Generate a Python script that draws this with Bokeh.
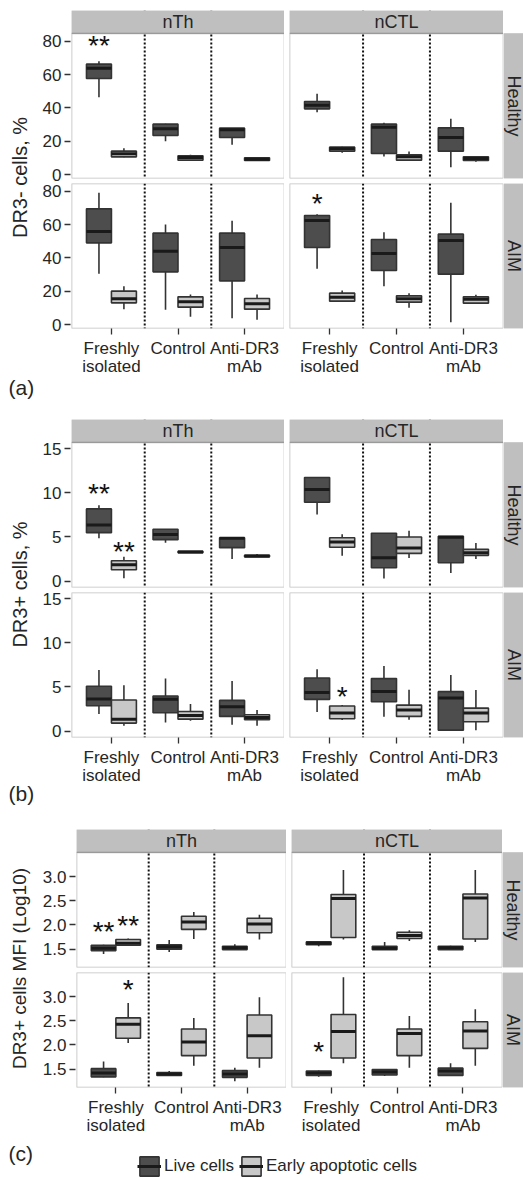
import numpy as np
from math import pi
from bokeh.plotting import figure
from bokeh.models import (ColumnDataSource, Range1d, FixedTicker, Span, Legend,
                          LegendItem, BoxAnnotation)
from bokeh.layouts import row, column
from bokeh.transform import dodge
from bokeh.core.properties import value
from bokeh.embed import file_html
from bokeh.resources import INLINE

# ---------------------------------------------------------------- data
TREATMENTS = ["Freshly isolated", "Control", "Anti-DR3 mAb"]
TICK_LABELS = ["Freshly\nisolated", "Control", "Anti-DR3\nmAb"]
SUBSETS = ["nTh", "nCTL"]
GROUPS = ["Healthy", "AIM"]
CELLS = ["Live cells", "Early apoptotic cells"]

# each box: [whisker low, Q1, median, Q3, whisker high], one per treatment
# (a) DR3- cells, %
A_HEALTHY_NTH_LIVE = [[46.4, 57.6, 63.8, 66.2, 68.0], [20.0, 23.4, 27.4, 30.2, 30.4], [17.8, 22.2, 26.8, 27.8, 27.9]]
A_HEALTHY_NTH_EARLY = [[10.4, 10.6, 12.4, 14.0, 15.8], [8.6, 8.6, 10.2, 11.2, 11.8], [8.2, 8.4, 9.2, 10.0, 10.2]]
A_HEALTHY_NCTL_LIVE = [[37.4, 39.4, 41.6, 43.8, 48.4], [10.8, 12.6, 28.4, 30.2, 31.0], [4.4, 14.0, 22.2, 28.0, 33.4]]
A_HEALTHY_NCTL_EARLY = [[13.0, 14.0, 15.4, 16.4, 16.6], [8.6, 8.6, 10.6, 11.8, 13.8], [7.6, 8.4, 9.6, 10.6, 10.8]]
A_AIM_NTH_LIVE = [[30.4, 49.0, 55.8, 69.4, 79.0], [8.8, 31.6, 44.0, 54.8, 60.0], [3.8, 26.2, 46.2, 54.8, 62.2]]
A_AIM_NTH_EARLY = [[9.2, 13.0, 15.4, 20.0, 23.0], [4.6, 10.4, 13.6, 16.6, 18.0], [2.8, 9.2, 12.4, 15.6, 18.0]]
A_AIM_NCTL_LIVE = [[33.4, 46.2, 62.4, 65.4, 66.2], [23.0, 32.4, 42.6, 51.0, 55.4], [1.4, 30.2, 50.4, 54.2, 73.0]]
A_AIM_NCTL_EARLY = [[14.0, 14.0, 16.4, 18.8, 20.4], [10.0, 13.4, 15.4, 17.2, 18.8], [12.8, 12.8, 15.2, 16.6, 17.8]]

# (b) DR3+ cells, %
B_HEALTHY_NTH_LIVE = [[4.85, 5.49, 6.36, 8.18, 8.6], [4.36, 4.7, 5.27, 5.87, 5.9], [2.5, 3.79, 4.85, 4.92, 4.95]]
B_HEALTHY_NTH_EARLY = [[0.34, 1.29, 1.86, 2.31, 2.77], [3.2, 3.22, 3.3, 3.38, 3.4], [2.73, 2.75, 2.84, 2.93, 3.07]]
B_HEALTHY_NCTL_LIVE = [[7.54, 8.94, 10.38, 11.74, 11.75], [0.3, 1.52, 2.65, 5.42, 5.43], [0.91, 2.08, 4.96, 5.08, 5.09]]
B_HEALTHY_NCTL_EARLY = [[2.88, 3.83, 4.43, 4.92, 5.3], [2.61, 3.14, 3.75, 5.0, 5.72], [2.5, 2.92, 3.22, 3.6, 4.32]]
B_AIM_NTH_LIVE = [[1.93, 2.88, 3.64, 5.08, 6.93], [0.98, 2.08, 3.6, 3.98, 5.95], [0.72, 1.67, 2.77, 3.48, 5.68]]
B_AIM_NTH_EARLY = [[0.6, 0.91, 1.36, 3.52, 5.19], [1.17, 1.36, 1.78, 2.23, 3.07], [0.6, 1.3, 1.55, 1.86, 2.39]]
B_AIM_NCTL_LIVE = [[2.16, 3.6, 4.39, 6.02, 7.0], [1.63, 3.33, 4.5, 5.95, 7.39], [0.11, 0.11, 3.75, 4.47, 6.36]]
B_AIM_NCTL_EARLY = [[1.25, 1.4, 2.05, 2.84, 2.95], [1.29, 1.67, 2.39, 2.95, 4.7], [0.11, 1.06, 2.05, 2.61, 4.66]]

# (c) DR3+ cells MFI (Log10)
C_HEALTHY_NTH_LIVE = [[1.40, 1.47, 1.52, 1.58, 1.59], [1.44, 1.50, 1.55, 1.59, 1.69], [1.49, 1.49, 1.53, 1.56, 1.60]]
C_HEALTHY_NTH_EARLY = [[1.57, 1.58, 1.62, 1.70, 1.72], [1.71, 1.91, 2.06, 2.18, 2.27], [1.70, 1.84, 2.02, 2.14, 2.21]]
C_HEALTHY_NCTL_LIVE = [[1.56, 1.59, 1.62, 1.65, 1.66], [1.49, 1.49, 1.52, 1.56, 1.65], [1.49, 1.49, 1.53, 1.56, 1.57]]
C_HEALTHY_NCTL_EARLY = [[1.70, 1.74, 2.55, 2.63, 3.14], [1.67, 1.72, 1.78, 1.85, 1.89], [1.65, 1.71, 2.56, 2.64, 3.14]]
C_AIM_NTH_LIVE = [[1.33, 1.34, 1.42, 1.51, 1.66], [1.36, 1.37, 1.40, 1.43, 1.46], [1.25, 1.33, 1.40, 1.47, 1.53]]
C_AIM_NTH_EARLY = [[2.04, 2.14, 2.43, 2.56, 2.87], [1.57, 1.78, 2.06, 2.33, 2.56], [1.53, 1.73, 2.19, 2.62, 2.99]]
C_AIM_NCTL_LIVE = [[1.34, 1.37, 1.42, 1.46, 1.47], [1.36, 1.38, 1.44, 1.49, 1.50], [1.37, 1.37, 1.46, 1.52, 1.62]]
C_AIM_NCTL_EARLY = [[1.62, 1.73, 2.28, 2.63, 3.40], [1.53, 1.78, 2.24, 2.33, 2.60], [1.57, 1.93, 2.29, 2.48, 2.74]]

# significance marks: (group, subset, treatment, cell, text, y)
A_STARS = [("Healthy", "nTh", "Freshly isolated", "Live cells", "**", 79.4),
           ("AIM", "nCTL", "Freshly isolated", "Live cells", "*", 74.4)]
B_STARS = [("Healthy", "nTh", "Freshly isolated", "Live cells", "**", 10.3),
           ("Healthy", "nTh", "Freshly isolated", "Early apoptotic cells", "**", 3.75),
           ("AIM", "nCTL", "Freshly isolated", "Early apoptotic cells", "*", 4.28)]
C_STARS = [("Healthy", "nTh", "Freshly isolated", "Live cells", "**", 1.92),
           ("Healthy", "nTh", "Freshly isolated", "Early apoptotic cells", "**", 2.05),
           ("AIM", "nTh", "Freshly isolated", "Early apoptotic cells", "*", 3.21),
           ("AIM", "nCTL", "Freshly isolated", "Live cells", "*", 1.92)]

A_YTICKS = [0, 20, 40, 60, 80]
B_YTICKS = [0, 5, 10, 15]
C_YTICKS = [1.5, 2.0, 2.5, 3.0]
Y_TITLES = ["DR3- cells, %", "DR3+ cells, %", "DR3+ cells MFI (Log10)"]
PANEL_TAGS = ["(a)", "(b)", "(c)"]


def stats_table(prefix):
    g = globals()
    out = {}
    for grp in GROUPS:
        for sub in SUBSETS:
            for cell, suffix in zip(CELLS, ["LIVE", "EARLY"]):
                out[(grp, sub, cell)] = g[f"{prefix}_{grp.upper()}_{sub.upper()}_{suffix}"]
    return out


# ---------------------------------------------------------------- style
FONT = "Liberation Sans"
DARK = "#4d4d4d"
LIGHT = "#c8c8c8"
EDGE = "#333333"
MED = "#1a1a1a"
FRAME = "#2b2b2b"
STRIP = "#bfbfbf"
STRIP_EDGE = "#a0a0a0"
TXT = "#262626"
BOX_W = 0.375
OFFSET = {CELLS[0]: -BOX_W / 2, CELLS[1]: BOX_W / 2}
FILL = {CELLS[0]: DARK, CELLS[1]: LIGHT}


def bare(width, height, xr=(0, 1), yr=(0, 1), **borders):
    b = dict(min_border_left=0, min_border_right=0, min_border_top=0, min_border_bottom=0)
    b.update(borders)
    p = figure(width=width, height=height, x_range=Range1d(*xr), y_range=Range1d(*yr),
               output_backend="svg", toolbar_location=None, **b)
    p.axis.visible = False
    p.grid.visible = False
    p.outline_line_color = None
    p.border_fill_color = "white"
    p.background_fill_color = "white"
    return p


def style_axis(ax):
    ax.axis_line_color = None
    ax.major_tick_in = 0
    ax.major_tick_out = 6
    ax.major_tick_line_color = EDGE
    ax.major_tick_line_width = 1.3
    ax.minor_tick_line_color = None
    ax.major_label_text_font = FONT
    ax.major_label_text_font_size = "17px"
    ax.major_label_text_color = TXT


def strip_text(p, x, y, label, vertical=False):
    p.text(x=[x], y=[y], text=[label], angle=(-pi / 2 if vertical else 0),
           text_font=value(FONT), text_font_size="18px", text_color=TXT,
           text_align="center", text_baseline="middle")


def right_strip(label, width, fh, top_strip, top_white, bottom):
    """Grey facet label on the right; the frame may also cover the top-strip band (left white)."""
    p = bare(width, top_strip + fh + bottom + top_white, yr=(0, fh + top_strip),
             min_border_top=top_white, min_border_bottom=bottom)
    p.add_layout(BoxAnnotation(top=fh, fill_color=STRIP, fill_alpha=1,
                               line_color=STRIP_EDGE, line_width=1, level="underlay"))
    strip_text(p, 0.5, fh / 2, label, vertical=True)
    return p


def yaxis_fig(yr, yticks, yfmt, width, fh, gap, top, bottom):
    """One shared y axis for the two stacked facet rows of a panel.

    The 1px-wide frame spans both facet rows (plus the gap between them) in
    screen units; each facet's tick values are placed by that facet's linear
    y scale so both rows' labels live on one canvas (no clipping)."""
    span = 2 * fh + gap
    p = bare(width, top + span + bottom, yr=(0, span), min_border_left=width - 1,
             min_border_top=top, min_border_bottom=bottom)
    ticks, labels = [], {}
    for base in (0, fh + gap):          # lower row (AIM), upper row (Healthy)
        for v in yticks:
            pos = round(base + (v - yr[0]) / (yr[1] - yr[0]) * fh, 4)
            ticks.append(pos)
            labels[pos] = yfmt % v
    ya = p.yaxis[0]
    ya.visible = True
    style_axis(ya)
    ya.ticker = FixedTicker(ticks=ticks)
    ya.major_label_overrides = labels
    ya.major_label_standoff = 3
    return p


def facet(stats, stars, grp, sub, yr, width, fh, left, bottom, show_x, strip_h=0, strip_top=0):
    """One facet panel. With strip_h > 0 the frame also holds the grey column strip on top."""
    y0, y1 = yr
    ytop = y1 + (y1 - y0) * strip_h / fh
    p = figure(width=width, height=strip_top + strip_h + fh + bottom,
               x_range=Range1d(0.4, 3.6), y_range=Range1d(y0, ytop),
               output_backend="svg", toolbar_location=None,
               min_border_left=left, min_border_right=0, min_border_top=strip_top,
               min_border_bottom=bottom)
    p.background_fill_color = "white"
    p.border_fill_color = "white"
    p.outline_line_color = None
    p.xgrid.visible = False
    p.ygrid.visible = False
    xs = list(range(1, len(TREATMENTS) + 1))
    for b in xs[:-1]:
        p.add_layout(Span(location=b + 0.5, dimension="height", line_color="#111111",
                          line_width=2, line_dash="2 2", level="underlay"))
    if strip_h:
        p.add_layout(BoxAnnotation(bottom=y1, fill_color=STRIP, fill_alpha=1,
                                   line_color=STRIP_EDGE, line_width=1, level="underlay"))
        strip_text(p, (0.4 + 3.6) / 2, (y1 + ytop) / 2, sub)
    for cell in CELLS:
        s = stats[(grp, sub, cell)]
        src = ColumnDataSource(dict(x=xs, lo=[v[0] for v in s], q1=[v[1] for v in s],
                                    med=[v[2] for v in s], q3=[v[3] for v in s],
                                    hi=[v[4] for v in s]))
        off = OFFSET[cell]
        p.segment(x0=dodge("x", off), x1=dodge("x", off), y0="lo", y1="hi", source=src,
                  line_color=EDGE, line_width=1.6)
        p.vbar(x=dodge("x", off), width=BOX_W, bottom="q1", top="q3", source=src,
               fill_color=FILL[cell], line_color=EDGE, line_width=1.6)
        p.segment(x0=dodge("x", off - BOX_W / 2), x1=dodge("x", off + BOX_W / 2),
                  y0="med", y1="med", source=src, line_color=MED, line_width=3)
    st = [s for s in stars if s[0] == grp and s[1] == sub]
    if st:
        ssrc = ColumnDataSource(dict(x=[TREATMENTS.index(s[2]) + 1 + OFFSET[s[3]] for s in st],
                                     y=[s[5] for s in st], t=[s[4] for s in st]))
        p.text(x="x", y="y", text="t", source=ssrc, text_font=value(FONT),
               text_font_size="28px", text_color="#111111", text_align="center",
               text_baseline="middle", y_offset=3)
    # panel border (below the strip, if any)
    p.add_layout(BoxAnnotation(top=y1, fill_alpha=0, line_color=FRAME, line_width=1.6,
                               level="overlay"))
    xa = p.xaxis[0]
    style_axis(xa)
    xa.ticker = FixedTicker(ticks=xs)
    xa.major_label_overrides = dict(zip(xs, TICK_LABELS))
    xa.major_label_standoff = 4
    xa.major_label_text_line_height = 0.95
    xa.visible = show_x
    p.yaxis[0].visible = False
    return p


def panel(prefix, stars, yr, yticks, yfmt, ytitle, ytitle_size, tag, g):
    stats = stats_table(prefix)
    head = g["strip_top"] + g["strip_h"]
    extra_h = g.get("legend_h", 0)
    fh, gap = g["fh"], g["gap"]
    # upper row (Healthy) carries the column strips inside its frames
    upper = row(
        facet(stats, stars, GROUPS[0], SUBSETS[0], yr, g["w1"], fh, 0, gap, False,
              g["strip_h"], g["strip_top"]),
        facet(stats, stars, GROUPS[0], SUBSETS[1], yr, gap + g["w2"], fh, gap, gap, False,
              g["strip_h"], g["strip_top"]),
        right_strip(GROUPS[0], g["rs_w"], fh, g["strip_h"], g["strip_top"], gap))
    lower = row(
        facet(stats, stars, GROUPS[1], SUBSETS[0], yr, g["w1"], fh, 0, g["bottom"], True),
        facet(stats, stars, GROUPS[1], SUBSETS[1], yr, gap + g["w2"], fh, gap, g["bottom"], True),
        right_strip(GROUPS[1], g["rs_w"], fh, 0, 0, g["bottom"]))
    right_parts = [upper, lower]
    if extra_h:
        lf = bare(g["w1"] + gap + g["w2"] + g["rs_w"], extra_h)
        items = []
        for cell in CELLS:
            src = ColumnDataSource(dict(x=np.array([np.nan]), q1=np.array([np.nan]),
                                        q3=np.array([np.nan]), med=np.array([np.nan])))
            rb = lf.vbar(x="x", width=0.1, bottom="q1", top="q3", source=src,
                         fill_color=FILL[cell], line_color=EDGE, line_width=1.6)
            rm = lf.segment(x0="x", x1="x", y0="med", y1="med", source=src,
                            line_color=MED, line_width=3)
            items.append(LegendItem(label=cell, renderers=[rb, rm]))
        leg = Legend(items=items, orientation="horizontal", location=g["legend_loc"],
                     glyph_width=24, glyph_height=24, label_standoff=3, spacing=5,
                     padding=0, margin=0, border_line_color=None, background_fill_alpha=0,
                     label_text_font=FONT, label_text_font_size="17px",
                     label_text_color=TXT)
        lf.add_layout(leg, "center")
        right_parts.append(lf)
    axes = yaxis_fig(yr, yticks, yfmt, g["left"], fh, gap, head, g["bottom"] + extra_h)
    total_h = head + fh + gap + fh + g["bottom"] + extra_h
    yl = bare(g["ylab_w"], total_h, xr=(0, g["ylab_w"]), yr=(total_h, 0))
    yl.text(x=[g["ytitle_x"]], y=[g["ytitle_y"]], text=[ytitle], angle=pi / 2,
            text_font=value(FONT), text_font_size=ytitle_size, text_color=TXT,
            text_align="center", text_baseline="middle")
    yl.text(x=[g["tag_x"]], y=[g["tag_y"]], text=[tag], text_font=value(FONT),
            text_font_size="21px", text_color=TXT, text_align="left", text_baseline="middle")
    return row(yl, column(axes), column(*right_parts))


GEO_AB = dict(ylab_w=38, left=33, w1=213, gap=5, w2=214, rs_w=20, strip_h=23, fh=145,
              ytitle_x=19, tag_x=8)
GEO_A = dict(GEO_AB, strip_top=10, bottom=91, ytitle_y=177, tag_y=387)
GEO_B = dict(GEO_AB, strip_top=0, bottom=92, ytitle_y=165, tag_y=374)
GEO_C = dict(ylab_w=38, left=38, w1=210, gap=5, w2=211, rs_w=21, strip_h=23, fh=115,
             strip_top=0, bottom=60, legend_h=31, legend_loc=(61, 0), ytitle_x=19,
             ytitle_y=139, tag_x=8, tag_y=324)

pa = panel("A", A_STARS, (-2.4, 84.6), A_YTICKS, "%d", Y_TITLES[0], "20px", PANEL_TAGS[0], GEO_A)
pb = panel("B", B_STARS, (-0.72, 15.7), B_YTICKS, "%d", Y_TITLES[1], "20px", PANEL_TAGS[1], GEO_B)
pc = panel("C", C_STARS, (1.12, 3.50), C_YTICKS, "%.1f", Y_TITLES[2], "19px", PANEL_TAGS[2], GEO_C)

layout = column(pa, pb, pc)
open("out.html", "w").write(file_html(layout, INLINE))
